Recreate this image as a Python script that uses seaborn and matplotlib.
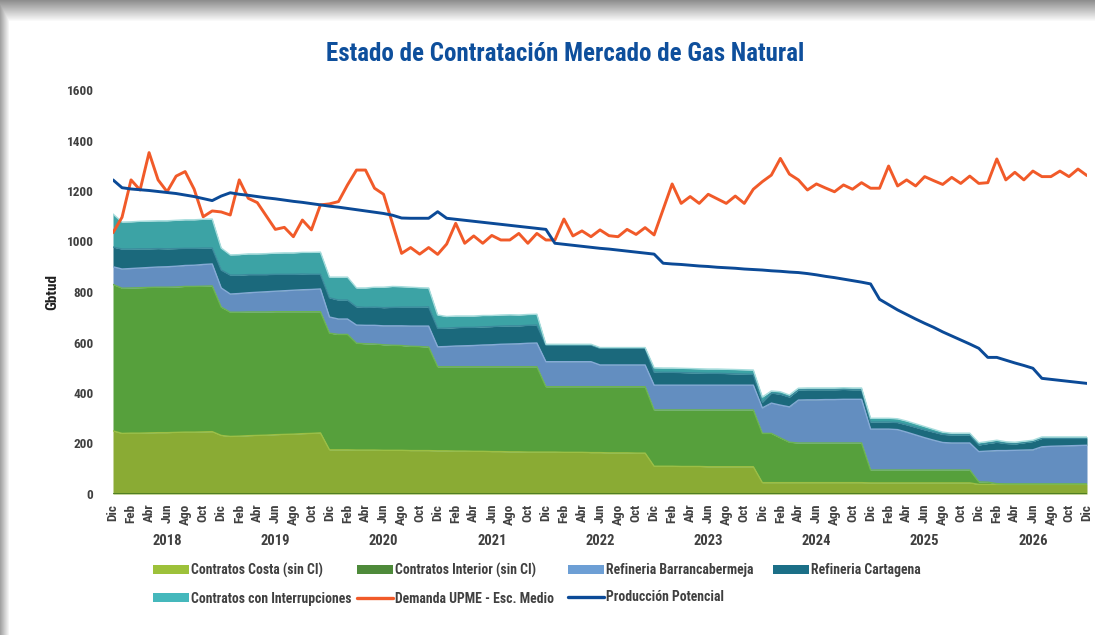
import numpy as np
import matplotlib
matplotlib.use("Agg")
import matplotlib.pyplot as plt
import matplotlib.transforms as mtransforms
from matplotlib import font_manager as fm
from matplotlib.patches import Patch
from matplotlib.lines import Line2D
import seaborn as sns

# Meses de Dic 2017 a Dic 2026 (109 meses), valores en Gbtud
tick_names = ['Dic', 'Feb', 'Abr', 'Jun', 'Ago', 'Oct']
years = [2018, 2019, 2020, 2021, 2022, 2023, 2024, 2025, 2026]

# cada fila: Dic (año anterior) .. Nov; último valor = Dic 2026
costa = [
    250, 240, 241, 241, 242, 243, 243, 244, 245, 245, 246, 247,
    232, 228, 229, 231, 232, 233, 235, 236, 237, 239, 240, 242,
    175, 175, 175, 174, 174, 174, 173, 173, 173, 172, 172, 172,
    171, 171, 170, 170, 169, 169, 168, 168, 167, 167, 166, 166,
    166, 166, 165, 165, 165, 164, 164, 163, 163, 163, 162, 162,
    110, 110, 110, 109, 109, 109, 108, 108, 108, 108, 108, 108,
    45, 45, 45, 45, 45, 45, 45, 45, 45, 45, 45, 45,
    44, 44, 44, 44, 44, 44, 44, 44, 44, 44, 44, 44,
    38, 38, 38, 38, 38, 38, 38, 38, 38, 38, 38, 38,
    38]
interior = [
    580, 575, 575, 576, 576, 576, 576, 576, 577, 577, 577, 577,
    508, 492, 491, 490, 489, 488, 487, 486, 485, 483, 482, 480,
    462, 457, 457, 423, 421, 420, 418, 416, 415, 413, 412, 410,
    333, 333, 334, 334, 335, 335, 336, 336, 337, 337, 338, 338,
    259, 259, 260, 260, 260, 261, 261, 262, 262, 262, 263, 263,
    223, 223, 223, 224, 224, 224, 225, 225, 225, 225, 225, 225,
    195, 195, 177, 160, 157, 157, 157, 157, 157, 157, 157, 157,
    51, 51, 51, 51, 51, 51, 51, 51, 51, 51, 51, 51,
    10, 9, 3, 2, 2, 2, 2, 2, 2, 2, 2, 2,
    2]
barranca = [
    70, 76, 77, 78, 79, 80, 81, 82, 83, 84, 86, 87,
    76, 72, 74, 76, 78, 80, 81, 83, 85, 87, 88, 90,
    64, 61, 61, 72, 73, 74, 75, 77, 78, 80, 81, 83,
    79, 80, 82, 83, 84, 86, 87, 89, 90, 91, 93, 94,
    99, 99, 99, 99, 99, 99, 86, 86, 86, 86, 86, 86,
    98, 98, 98, 98, 98, 98, 98, 98, 98, 98, 98, 98,
    101, 120, 130, 140, 170, 171, 171, 172, 172, 173, 173, 173,
    162, 162, 162, 160, 150, 139, 128, 118, 109, 107, 107, 107,
    120, 123, 131, 132, 133, 134, 135, 147, 149, 150, 151, 152,
    153]
cartagena = [
    78, 79, 77, 76, 74, 73, 71, 70, 68, 67, 65, 63,
    71, 75, 73, 72, 70, 68, 67, 65, 63, 62, 60, 58,
    76, 75, 75, 72, 71, 72, 72, 73, 74, 75, 75, 76,
    73, 73, 73, 73, 72, 72, 72, 72, 72, 71, 71, 71,
    66, 66, 66, 66, 66, 66, 66, 66, 66, 66, 66, 66,
    52, 51, 51, 50, 49, 48, 47, 47, 46, 45, 44, 43,
    23, 40, 43, 39, 40, 40, 40, 39, 39, 39, 38, 38,
    28, 28, 28, 28, 29, 30, 31, 32, 32, 32, 32, 32,
    26, 30, 33, 28, 25, 29, 33, 33, 31, 30, 29, 28,
    27]
interrupciones = [
    131, 107, 108, 109, 110, 110, 111, 112, 113, 113, 114, 115,
    87, 80, 81, 82, 82, 83, 84, 85, 85, 86, 87, 88,
    82, 91, 91, 75, 77, 79, 81, 83, 81, 79, 77, 75,
    53, 46, 46, 45, 45, 45, 44, 44, 44, 43, 43, 43,
    3, 3, 3, 3, 3, 3, 3, 3, 3, 3, 3, 3,
    17, 17, 17, 17, 17, 17, 17, 17, 17, 17, 17, 17,
    20, 8, 10, 8, 7, 7, 7, 7, 7, 7, 7, 7,
    15, 15, 15, 15, 15, 14, 13, 11, 9, 7, 7, 7,
    9, 8, 8, 7, 7, 6, 5, 6, 6, 6, 6, 6,
    6]
demanda = [
    1035, 1096, 1244, 1204, 1352, 1244, 1197, 1259, 1277, 1207, 1098, 1121,
    1117, 1105, 1244, 1171, 1154, 1101, 1048, 1056, 1019, 1085, 1046, 1145,
    1149, 1158, 1224, 1283, 1283, 1211, 1187, 1070, 953, 976, 950, 976,
    949, 990, 1072, 993, 1022, 993, 1024, 1006, 1006, 1032, 993, 1032,
    1006, 1006, 1089, 1022, 1042, 1019, 1046, 1023, 1019, 1048, 1028, 1055,
    1026, 1127, 1228, 1151, 1178, 1151, 1187, 1169, 1151, 1180, 1151, 1207,
    1237, 1263, 1329, 1267, 1244, 1204, 1228, 1212, 1197, 1224, 1207, 1233,
    1211, 1211, 1299, 1220, 1244, 1220, 1257, 1241, 1226, 1254, 1230, 1259,
    1230, 1233, 1327, 1244, 1274, 1244, 1279, 1257, 1257, 1279, 1257, 1287,
    1261]
produccion = [
    1244, 1213, 1208, 1205, 1202, 1198, 1194, 1190, 1184, 1178, 1170, 1162,
    1180, 1193, 1187, 1183, 1178, 1173, 1169, 1164, 1159, 1155, 1150, 1145,
    1140, 1136, 1131, 1126, 1121, 1116, 1111, 1104, 1093, 1092, 1092, 1092,
    1118, 1092, 1088, 1084, 1080, 1076, 1072, 1068, 1064, 1060, 1056, 1052,
    1048, 993, 989, 985, 981, 977, 973, 970, 966, 962, 958, 954,
    950, 914, 911, 909, 906, 903, 901, 898, 896, 894, 891, 889,
    887, 884, 882, 879, 877, 873, 868, 862, 857, 851, 845, 839,
    832, 771, 750, 729, 711, 693, 676, 660, 642, 626, 610, 594,
    577, 541, 541, 530, 519, 509, 498, 458, 454, 450, 446, 442,
    438]

area_labels = ['Contratos Costa (sin CI)', 'Contratos Interior (sin CI)',
               'Refineria Barrancabermeja', 'Refineria Cartagena',
               'Contratos con Interrupciones']
area_colors = ['#8aab34', '#56a03c', '#638ec0', '#1b697c', '#3ca3a5']
edge_colors = ['#9cbf45', '#6cb452', '#85aad6', '#3b8a9c', '#a6dcdc']
legend_colors = ['#9dc13a', '#4e8a3a', '#6d9fd5', '#1b6f87', '#45b8bc']
c_dem = '#f15a29'
c_prod = '#0b4a97'

sns.set_style("white")

# fuente estrecha si existe (tipo Arial Narrow)
names = {f.name for f in fm.fontManager.ttflist}
narrow = [n for n in ['Liberation Sans Narrow', 'Arial Narrow', 'Roboto Condensed',
                      'Open Sans Condensed', 'Noto Sans Condensed',
                      'DejaVu Sans Condensed'] if n in names]
narrow += sorted(n for n in names if ('Condensed' in n or 'Narrow' in n) and n not in narrow)
if narrow:
    plt.rcParams['font.family'] = [narrow[0], 'DejaVu Sans']
    k = 1.0
else:
    plt.rcParams['font.family'] = ['Liberation Sans', 'DejaVu Sans']
    k = 0.85
txt_gray = '#404040'

fig = plt.figure(figsize=(10.95, 6.35), dpi=100)

# marco con sombra (tarjeta)
bg = fig.add_axes([0, 0, 1, 1], zorder=-10)
hh, ww = 635, 1095
yy, xx = np.mgrid[0:hh, 0:ww]
shade = np.minimum(np.clip(0.6 + 0.4 * (yy - 2) / 19.0, 0, 1),
                   np.clip(0.68 + 0.32 * (xx - 1) / 8.0, 0, 1))
bg.imshow(np.dstack([shade] * 3), aspect='auto', interpolation='bilinear')
bg.axis('off')

ax = fig.add_axes([113 / 1095, 141 / 635, 974 / 1095, 404 / 635])
ax.set_facecolor('none')
months = np.arange(len(costa))
layers = [costa, interior, barranca, cartagena, interrupciones]
ax.stackplot(months, *layers, colors=area_colors, linewidth=0)
tops = np.cumsum(np.array(layers, dtype=float), axis=0)
for top, ec in zip(tops, edge_colors):
    ax.plot(months, top, color=ec, lw=1.0, zorder=2)
ax.plot(months, np.zeros(len(months)), color='#4a7a22', lw=2.0, zorder=2)

sns.lineplot(x=months, y=demanda, ax=ax, color=c_dem, lw=2.1, zorder=4)
sns.lineplot(x=months, y=produccion, ax=ax, color=c_prod, lw=2.1, zorder=5)

ax.set_xlim(0, len(months) - 1)
ax.set_ylim(0, 1600)
ax.set_yticks(range(0, 1601, 200))
ax.set_yticklabels([str(v) for v in range(0, 1601, 200)], fontsize=9.5 * k,
                   fontweight='bold', color=txt_gray)
xt = months[::2]
ax.set_xticks(xt)
ax.set_xticklabels([tick_names[(i // 2) % 6] for i in xt], rotation=90,
                   fontsize=9.5 * k, fontweight='bold', color=txt_gray)
ax.tick_params(axis='y', length=0, pad=14)
ax.tick_params(axis='x', length=0, pad=7)
for s in ax.spines.values():
    s.set_visible(False)
ax.set_ylabel('Gbtud', fontsize=11 * k, fontweight='bold', color='#202020')
ax.yaxis.set_label_coords((59 - 113) / 974, 0.5)

trans = mtransforms.blended_transform_factory(ax.transData, fig.transFigure)
for j, yr in enumerate(years):
    ax.text(6 + 12 * j, 1 - 541 / 635, str(yr), transform=trans, ha='center',
            va='center', fontsize=10.5 * k, fontweight='bold', color=txt_gray)

fig.text(565 / 1095, 1 - 54 / 635, 'Estado de Contratación Mercado de Gas Natural',
         ha='center', va='center', fontsize=18 * k, fontweight='bold', color='#0e4f9c')

# leyenda en columnas de ancho fijo (como Excel)
handles = [Patch(facecolor=c, edgecolor='none') for c in legend_colors]
handles += [Line2D([0], [0], color=c_dem, lw=2.4), Line2D([0], [0], color=c_prod, lw=2.4)]
labels = area_labels + ['Demanda UPME - Esc. Medio', 'Producción Potencial']
columns = [[0, 4], [1, 5], [2, 6], [3]]
col_x = [153, 357, 568, 773]
for idx, cx in zip(columns, col_x):
    leg = fig.legend([handles[i] for i in idx], [labels[i] for i in idx],
                     loc='upper left', bbox_to_anchor=(cx / 1095, 1 - 563 / 635),
                     frameon=False, fontsize=9.9 * k, handlelength=2.65,
                     handleheight=0.65, handletextpad=0.1, labelspacing=0.98,
                     borderpad=0, borderaxespad=0)
    for t in leg.get_texts():
        t.set_color(txt_gray)
        t.set_fontweight('bold')

fig.savefig('out.png', dpi=100)
